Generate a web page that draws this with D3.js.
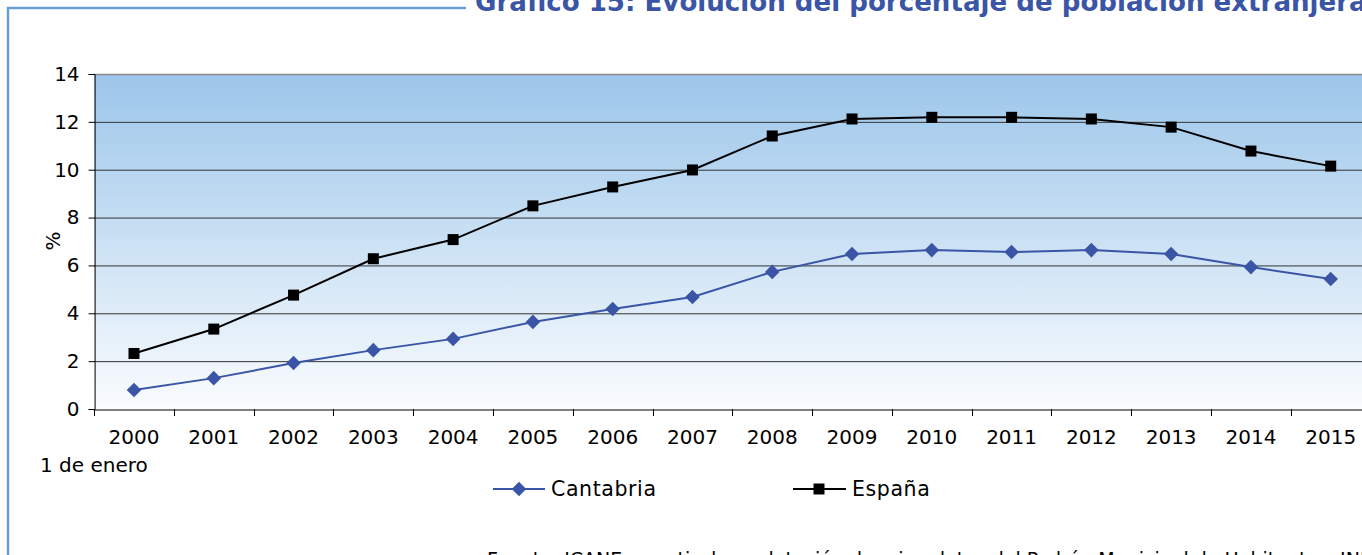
<!DOCTYPE html>
<html><head><meta charset="utf-8">
<script src="https://cdn.jsdelivr.net/npm/d3@7"></script>
<style>body{margin:0;background:#fff;overflow:hidden}svg{display:block}text{font-family:"DejaVu Sans",Verdana,sans-serif}</style>
</head><body>
<svg id="c" width="1362" height="555"></svg>
<script>
const years = ["2000","2001","2002","2003","2004","2005","2006","2007","2008","2009","2010","2011","2012","2013","2014","2015"];
const cantabria = [0.79,1.29,1.92,2.46,2.93,3.64,4.18,4.68,5.73,6.48,6.64,6.56,6.64,6.48,5.93,5.43];
const espana = [2.32,3.34,4.76,6.28,7.08,8.49,9.28,9.99,11.41,12.12,12.19,12.19,12.12,11.78,10.78,10.15];
const yTicks = [0,2,4,6,8,10,12,14];
const title = "Gráfico 15: Evolución del porcentaje de población extranjera";
const source = "Fuente: ICANE a partir de explotación de microdatos del Padrón Municipal de Habitantes. INE";

const svg = d3.select("#c");
const L = 94.1, R = 1370.6, T = 74, B = 409;
const x = d3.scaleBand().domain(years).range([L, R]);
const y = d3.scaleLinear().domain([0,14]).range([B, T]);

// frame
svg.append("path").attr("d", d3.line()([[8,600],[8,8],[466,8]]))
  .attr("fill","none").attr("stroke","#6a9fd8").attr("stroke-width",2.5);

// title
const tt = svg.append("text").attr("x",475).attr("y",11).attr("fill","#3a55a6")
  .attr("font-weight","bold").attr("font-size",18).text(title);
const tw = tt.node().getComputedTextLength();
tt.attr("font-size", 18*892/tw);

// gradient
const defs = svg.append("defs");
const g = defs.append("linearGradient").attr("id","bg").attr("x1",0).attr("y1",0).attr("x2",0).attr("y2",1);
g.append("stop").attr("offset","0%").attr("stop-color","#9cc6ea");
g.append("stop").attr("offset","100%").attr("stop-color","#fafcfe");
svg.append("rect").attr("x",L).attr("y",T).attr("width",R-L).attr("height",B-T).attr("fill","url(#bg)");

// gridlines
svg.append("g").selectAll("line").data(yTicks.filter(d=>d>0)).join("line")
  .attr("x1",L).attr("x2",R).attr("y1",d=>y(d)+0.5).attr("y2",d=>y(d)+0.5)
  .attr("stroke",d=>d===14?"#8a8a8a":"#333").attr("stroke-width",d=>d===14?1.5:1);

// y axis
const ya = svg.append("g").attr("transform",`translate(${L+0.5},0)`)
  .call(d3.axisLeft(y).tickValues(yTicks).tickSize(6).tickPadding(9));
ya.select(".domain").attr("stroke","#000");
ya.selectAll(".tick line").attr("stroke","#000");
ya.selectAll("text").attr("font-size",20).attr("fill","#000").attr("font-family","DejaVu Sans");

// x axis
const xa = svg.append("g").attr("transform",`translate(0,${B+0.5})`)
  .call(d3.axisBottom(x).tickSize(0).tickPadding(20));
xa.select(".domain").attr("stroke","#000");
xa.selectAll("text").attr("font-size",20).attr("fill","#000").attr("font-family","DejaVu Sans");
svg.append("g").selectAll("line").data(years).join("line")
  .attr("x1",d=>Math.round(x(d))+0.5).attr("x2",d=>Math.round(x(d))+0.5)
  .attr("y1",B).attr("y2",B+7).attr("stroke","#000");

// labels
svg.append("text").attr("transform","translate(60,241) rotate(-90)").attr("text-anchor","middle")
  .attr("font-size",20).text("%");
svg.append("text").attr("x",40).attr("y",472).attr("font-size",20).text("1 de enero");

const cx = d => x(d) + x.bandwidth()/2;
const line = d3.line().x((d,i)=>cx(years[i])).y(d=>y(d));
const blue = "#3a55a6";

svg.append("path").datum(cantabria).attr("d",line).attr("fill","none").attr("stroke",blue).attr("stroke-width",2);
svg.append("path").datum(espana).attr("d",line).attr("fill","none").attr("stroke","#000").attr("stroke-width",2);

const diamond = d3.symbol().type(d3.symbolDiamond2).size(135);
svg.append("g").selectAll("path").data(cantabria).join("path")
  .attr("transform",(d,i)=>`translate(${cx(years[i])},${y(d)})`)
  .attr("d",diamond).attr("fill",blue);
svg.append("g").selectAll("rect").data(espana).join("rect")
  .attr("x",(d,i)=>cx(years[i])-5.5).attr("y",d=>y(d)-5.5).attr("width",11).attr("height",11)
  .attr("fill","#000");

// legend
const ly = 489;
const lg = svg.append("g");
lg.append("line").attr("x1",493).attr("x2",545).attr("y1",ly).attr("y2",ly).attr("stroke",blue).attr("stroke-width",2);
lg.append("path").attr("transform",`translate(519,${ly})`).attr("d",diamond).attr("fill",blue);
lg.append("text").attr("x",551).attr("y",ly+7).attr("font-size",20.5).attr("letter-spacing",0.6).text("Cantabria");
lg.append("line").attr("x1",793).attr("x2",846).attr("y1",ly).attr("y2",ly).attr("stroke","#000").attr("stroke-width",2);
lg.append("rect").attr("x",819-5.5).attr("y",ly-5.5).attr("width",11).attr("height",11).attr("fill","#000");
lg.append("text").attr("x",852).attr("y",ly+7).attr("font-size",20.5).attr("letter-spacing",0.6).text("España");

// source
svg.append("text").attr("x",487).attr("y",566).attr("font-size",19).text(source);
</script>
</body></html>
